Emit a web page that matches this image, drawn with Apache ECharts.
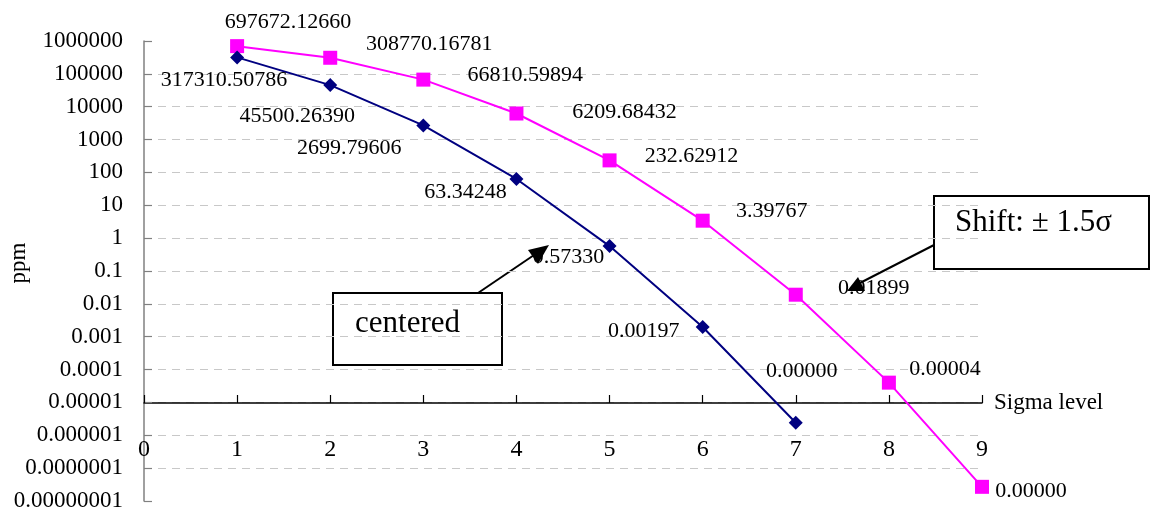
<!DOCTYPE html>
<html>
<head>
<meta charset="utf-8">
<script src="https://cdn.jsdelivr.net/npm/echarts@6/dist/echarts.min.js"></script>
<style>
  html, body { margin: 0; padding: 0; background: #fff; }
</style>
</head>
<body>
<div id="main" style="width: 1150px; height: 516px;"></div>
<script>
// sigma levels and ppm values
const sigma = [1, 2, 3, 4, 5, 6, 7, 8, 9]
const centered = [317310.50786, 45500.2639, 2699.79606, 63.34248, 0.5733, 0.00197, 0.0000024]
const shifted = [697672.1266, 308770.16781, 66810.59894, 6209.68432, 232.62912, 3.39767, 0.01899, 0.00004, 0.000000027]
const xTickLabels = ['0', '1', '2', '3', '4', '5', '6', '7', '8', '9']
const yTickLabels = ['0.00000001', '0.0000001', '0.000001', '0.00001', '0.0001', '0.001', '0.01', '0.1',
  '1', '10', '100', '1000', '10000', '100000', '1000000']

// where each value label sits relative to its marker
const centeredLabelOffset = [[-13, 23], [-33, 31], [-74, 23], [-51, 13], [-41, 11], [-59, 4], [6, -52]]
const shiftedLabelOffset = [[51, -24], [99, -14], [102, -4], [108, -1], [82, -4], [69, -9], [78, -6], [56, -13], [49, 4]]

const serif = 'Liberation Serif'

function makeData(values, offsets) {
  return values.map((v, i) => ({
    value: [sigma[i], v],
    label: { offset: offsets[i] }
  }))
}

const chart = echarts.init(document.getElementById('main'))

const option = {
  animation: false,
  grid: { left: 144, right: 168, top: 41, bottom: 15 },
  xAxis: {
    type: 'value',
    min: 0,
    max: 9,
    interval: 1,
    offset: -98,
    name: 'Sigma level',
    nameLocation: 'end',
    nameGap: 12,
    nameTextStyle: { fontFamily: serif, fontSize: 23, color: '#000' },
    axisLine: { show: true, lineStyle: { color: '#000', width: 1.5 } },
    axisTick: { show: true, inside: true, length: 8, lineStyle: { color: '#000', width: 1.2 } },
    axisLabel: {
      margin: 35,
      fontFamily: serif,
      fontSize: 24,
      lineHeight: 24,
      color: '#000',
      formatter: v => xTickLabels[Math.round(v)]
    },
    splitLine: { show: false }
  },
  yAxis: {
    type: 'log',
    logBase: 10,
    min: 1e-8,
    max: 1e6,
    interval: 1,
    axisLine: { show: true, lineStyle: { color: '#808080', width: 1.5 } },
    axisTick: { show: true, inside: true, length: 8, lineStyle: { color: '#808080', width: 1.2 } },
    axisLabel: {
      margin: 21,
      fontFamily: serif,
      fontSize: 23,
      color: '#000',
      formatter: v => yTickLabels[Math.round(Math.log10(v)) + 8]
    },
    splitLine: {
      show: true,
      showMinLine: false,
      showMaxLine: false,
      lineStyle: { color: '#c8c8c8', type: [8, 6], width: 1 }
    }
  },
  series: [
    {
      name: 'centered',
      type: 'line',
      data: makeData(centered, centeredLabelOffset),
      symbol: 'diamond',
      symbolSize: 14,
      lineStyle: { color: '#000080', width: 2 },
      itemStyle: { color: '#000080' },
      label: {
        show: true,
        position: 'inside',
        fontFamily: serif,
        fontSize: 22,
        color: '#000',
        formatter: p => p.value[1].toFixed(5)
      },
      z: 3
    },
    {
      name: 'shifted',
      type: 'line',
      data: makeData(shifted, shiftedLabelOffset),
      symbol: 'rect',
      symbolSize: 14,
      lineStyle: { color: '#ff00ff', width: 2 },
      itemStyle: { color: '#ff00ff' },
      label: {
        show: true,
        position: 'inside',
        fontFamily: serif,
        fontSize: 22,
        color: '#000',
        formatter: p => p.value[1].toFixed(5)
      },
      z: 2
    }
  ],
  graphic: [
    {
      type: 'text',
      x: 19, y: 263, rotation: Math.PI / 2,
      style: { text: 'ppm', fontFamily: serif, fontSize: 23, fill: '#000', align: 'center', verticalAlign: 'middle' }
    },
    // "centered" callout
    {
      type: 'line',
      shape: { x1: 478, y1: 293, x2: 540, y2: 251 },
      style: { stroke: '#000', lineWidth: 2 }
    },
    {
      type: 'polygon',
      shape: { points: [[549, 245], [528, 250], [538, 264]] },
      style: { fill: '#000' }
    },
    {
      type: 'rect',
      shape: { x: 333, y: 293, width: 169, height: 72 },
      style: { fill: '#fff', stroke: '#000', lineWidth: 2 }
    },
    {
      type: 'text',
      x: 355, y: 324,
      style: { text: 'centered', fontFamily: serif, fontSize: 31, fill: '#000', verticalAlign: 'middle' }
    },
    // "Shift" callout
    {
      type: 'line',
      shape: { x1: 934, y1: 245, x2: 856, y2: 285 },
      style: { stroke: '#000', lineWidth: 2 }
    },
    {
      type: 'polygon',
      shape: { points: [[847, 291], [858, 277], [865, 291]] },
      style: { fill: '#000' }
    },
    {
      type: 'rect',
      shape: { x: 934, y: 196, width: 215, height: 73 },
      style: { fill: '#fff', stroke: '#000', lineWidth: 2 }
    },
    {
      type: 'text',
      x: 955, y: 223,
      style: { text: 'Shift: \u00b1 1.5\u03c3', fontFamily: serif, fontSize: 31, fill: '#000', verticalAlign: 'middle' }
    }
  ]
}

chart.setOption(option)
</script>
</body>
</html>
